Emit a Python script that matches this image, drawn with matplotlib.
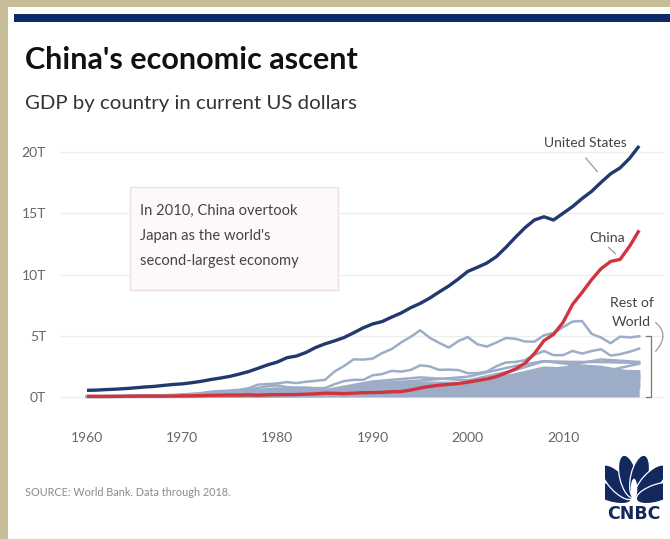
import numpy as np
import matplotlib
matplotlib.use("Agg")
import matplotlib.pyplot as plt
from matplotlib.patches import Rectangle, Ellipse, PathPatch
from matplotlib.path import Path

plt.rcParams['font.family'] = ['Lato', 'DejaVu Sans']

# GDP, trillions of current US dollars (World Bank)
years = list(range(1960, 2019))
us_gdp = [0.543, 0.563, 0.605, 0.638, 0.686, 0.744, 0.815, 0.862, 0.943, 1.019,
          1.073, 1.165, 1.280, 1.425, 1.545, 1.684, 1.873, 2.082, 2.352, 2.627,
          2.857, 3.207, 3.343, 3.634, 4.037, 4.339, 4.580, 4.855, 5.236, 5.642,
          5.963, 6.158, 6.520, 6.859, 7.287, 7.640, 8.073, 8.578, 9.063, 9.631,
          10.252, 10.582, 10.936, 11.458, 12.214, 13.037, 13.815, 14.452, 14.713, 14.449,
          14.992, 15.543, 16.197, 16.785, 17.522, 18.219, 18.707, 19.485, 20.494]
china_gdp = [0.060, 0.050, 0.047, 0.051, 0.060, 0.070, 0.077, 0.073, 0.071, 0.080,
             0.093, 0.100, 0.114, 0.139, 0.144, 0.163, 0.154, 0.175, 0.150, 0.178,
             0.191, 0.196, 0.205, 0.230, 0.260, 0.309, 0.301, 0.273, 0.313, 0.348,
             0.361, 0.383, 0.427, 0.445, 0.564, 0.734, 0.864, 0.962, 1.029, 1.094,
             1.211, 1.339, 1.471, 1.660, 1.955, 2.286, 2.752, 3.552, 4.598, 5.110,
             6.087, 7.552, 8.532, 9.570, 10.476, 11.062, 11.234, 12.310, 13.608]
japan_gdp = [0.044, 0.054, 0.061, 0.070, 0.082, 0.091, 0.106, 0.124, 0.147, 0.173,
             0.213, 0.240, 0.318, 0.432, 0.480, 0.522, 0.586, 0.722, 1.013, 1.055,
             1.105, 1.218, 1.135, 1.243, 1.319, 1.399, 2.079, 2.532, 3.072, 3.054,
             3.133, 3.584, 3.909, 4.455, 4.908, 5.449, 4.833, 4.414, 4.032, 4.562,
             4.888, 4.304, 4.115, 4.446, 4.815, 4.755, 4.530, 4.515, 5.038, 5.231,
             5.700, 6.158, 6.203, 5.156, 4.850, 4.390, 4.927, 4.860, 4.955]
germany_years = list(range(1970, 2019))
germany_gdp = [0.216, 0.250, 0.300, 0.399, 0.446, 0.489, 0.519, 0.600, 0.740, 0.882,
               0.950, 0.801, 0.776, 0.771, 0.725, 0.732, 1.046, 1.296, 1.401, 1.398,
               1.772, 1.868, 2.132, 2.071, 2.206, 2.586, 2.497, 2.212, 2.238, 2.195,
               1.944, 1.945, 2.079, 2.506, 2.819, 2.861, 3.002, 3.440, 3.752, 3.418,
               3.417, 3.758, 3.544, 3.753, 3.898, 3.382, 3.495, 3.693, 3.950]

row_years = [1960, 1965, 1970, 1975, 1980, 1985, 1990, 1995, 2000, 2005, 2008, 2011, 2014, 2018]
nan = np.nan
uk_gdp = [0.073, 0.100, 0.131, 0.241, 0.564, 0.489, 1.093, 1.344, 1.658, 2.538, 2.929, 2.663, 3.064, 2.861]
france_gdp = [0.062, 0.102, 0.148, 0.362, 0.702, 0.555, 1.269, 1.601, 1.362, 2.197, 2.918, 2.865, 2.852, 2.778]
india_gdp = [0.037, 0.059, 0.063, 0.099, 0.186, 0.233, 0.321, 0.360, 0.468, 0.820, 1.199, 1.823, 2.039, 2.713]
italy_gdp = [0.040, 0.067, 0.113, 0.228, 0.477, 0.446, 1.181, 1.174, 1.143, 1.857, 2.392, 2.292, 2.152, 2.092]
brazil_gdp = [0.015, 0.022, 0.042, 0.124, 0.235, 0.223, 0.462, 0.769, 0.655, 0.892, 1.696, 2.616, 2.456, 1.917]
canada_gdp = [0.041, 0.057, 0.088, 0.174, 0.274, 0.365, 0.594, 0.604, 0.744, 1.169, 1.553, 1.793, 1.806, 1.717]
russia_gdp = [nan, nan, nan, nan, nan, nan, 0.517, 0.396, 0.260, 0.764, 1.661, 2.046, 2.064, 1.657]
korea_gdp = [0.004, 0.003, 0.009, 0.022, 0.065, 0.101, 0.283, 0.566, 0.576, 0.934, 1.047, 1.253, 1.484, 1.725]
australia_gdp = [0.019, 0.027, 0.041, 0.098, 0.150, 0.175, 0.311, 0.368, 0.415, 0.693, 1.055, 1.398, 1.468, 1.433]
spain_gdp = [0.012, 0.024, 0.041, 0.111, 0.232, 0.181, 0.535, 0.612, 0.598, 1.157, 1.636, 1.479, 1.371, 1.420]
mexico_gdp = [0.013, 0.021, 0.035, 0.088, 0.206, 0.185, 0.262, 0.344, 0.708, 0.877, 1.110, 1.180, 1.315, 1.221]
indonesia_gdp = [nan, nan, 0.009, 0.031, 0.072, 0.087, 0.106, 0.202, 0.165, 0.286, 0.510, 0.893, 0.891, 1.042]
netherlands_gdp = [0.012, 0.020, 0.038, 0.097, 0.194, 0.141, 0.318, 0.452, 0.416, 0.685, 0.936, 0.905, 0.892, 0.914]
switzerland_gdp = [0.009, 0.014, 0.022, 0.056, 0.118, 0.107, 0.258, 0.342, 0.279, 0.408, 0.555, 0.724, 0.726, 0.705]

row_lines = [uk_gdp, france_gdp, india_gdp, italy_gdp, brazil_gdp, canada_gdp, russia_gdp,
             korea_gdp, australia_gdp, spain_gdp, mexico_gdp, indonesia_gdp,
             netherlands_gdp, switzerland_gdp]
row_band = [italy_gdp, brazil_gdp, canada_gdp, russia_gdp, korea_gdp, australia_gdp,
            spain_gdp, mexico_gdp]

yticks = [0, 5, 10, 15, 20]
ytick_labels = ['0T', '5T', '10T', '15T', '20T']
xticks = [1960, 1970, 1980, 1990, 2000, 2010]

NAVY = '#22396f'
RED = '#d1343c'
ROW = '#9dadc8'

W, H = 670, 539
fig = plt.figure(figsize=(W / 100, H / 100), dpi=100, facecolor='#c7bd98')
fig.patches.append(Rectangle((8 / W, 0), 1, 1 - 7 / H, transform=fig.transFigure,
                             facecolor='white', edgecolor='none', zorder=-10))
fig.patches.append(Rectangle((14 / W, 1 - 22 / H), 1, 8 / H, transform=fig.transFigure,
                             facecolor='#0c2a6a', edgecolor='none', zorder=-5))

fig.text(25 / W, 1 - 60 / H, "China's economic ascent", fontsize=22, fontweight='bold',
         color='#111111', va='center', ha='left')
fig.text(25 / W, 1 - 103 / H, "GDP by country in current US dollars", fontsize=14.7,
         color='#333333', va='center', ha='left')
fig.text(25 / W, 1 - 492 / H, "SOURCE: World Bank. Data through 2018.", fontsize=7.8,
         color='#8a8a8a', va='center', ha='left')

ax = fig.add_axes([60 / W, 1 - 410 / H, 605 / W, 270 / H])
ax.set_facecolor('none')
ax.set_xlim(1960 - 27 / 9.52, 1960 + 578 / 9.52)
ax.set_ylim(-13 / 12.25, 20 + 12 / 12.25)
for s in ax.spines.values():
    s.set_visible(False)
ax.set_yticks(yticks)
ax.set_yticklabels(ytick_labels)
ax.set_xticks(xticks)
ax.tick_params(length=0, labelsize=10, labelcolor='#666666')
ax.tick_params(axis='y', pad=10)
ax.tick_params(axis='x', pad=16)
ax.grid(axis='y', color='#eeeeee', linewidth=1)
ax.set_axisbelow(True)

# rest of world
band_top = np.nanmax(np.array(row_band), axis=0)
ax.fill_between(row_years, 0, band_top, color=ROW, linewidth=0, zorder=2)
for s in row_lines:
    ax.plot(row_years, s, color=ROW, linewidth=1.8, zorder=2)
ax.plot(germany_years, germany_gdp, color=ROW, linewidth=1.8, zorder=2)
ax.plot(years, japan_gdp, color=ROW, linewidth=1.8, zorder=2)

ax.plot(years, china_gdp, color=RED, linewidth=2.4, zorder=4, solid_capstyle='butt')
ax.plot(years, us_gdp, color=NAVY, linewidth=2.4, zorder=5, solid_capstyle='butt')

# labels
ax.text(2012.4, 20.7, "United States", fontsize=10, color='#444444', ha='center', va='center')
ax.plot([2012.4, 2013.6], [19.5, 18.4], color='#999999', linewidth=0.9)
ax.text(2014.6, 13.0, "China", fontsize=10.2, color='#444444', ha='center', va='center')
ax.plot([2014.8, 2015.5], [12.2, 11.7], color='#999999', linewidth=0.9)
ax.text(2017.2, 6.9, "Rest of\nWorld", fontsize=10.2, color='#444444', ha='center',
        va='center', linespacing=1.7)
ax.plot([2018.7, 2019.2, 2019.2, 2018.7], [4.95, 4.95, 0.0, 0.0], color='#777777',
        linewidth=0.9, clip_on=False)
arc = Path([(2019.7, 6.1), (2021.3, 5.1), (2019.7, 3.7)], [Path.MOVETO, Path.CURVE3, Path.CURVE3])
ax.add_patch(PathPatch(arc, facecolor='none', edgecolor='#999999', linewidth=0.9, clip_on=False))

# annotation box
fig.patches.append(Rectangle((130 / W, 1 - 290 / H), 208 / W, 103 / H, transform=fig.transFigure,
                             facecolor='#fdf9fa', edgecolor='#ecdfe4', linewidth=1, zorder=3))
fig.text(140 / W, 1 - 204 / H, "In 2010, China overtook\nJapan as the world's\nsecond-largest economy",
         fontsize=10.6, color='#444444', va='top', ha='left', linespacing=2.0, zorder=4)

# CNBC peacock
lax = fig.add_axes([605 / W, 1 - 503 / H, 58 / W, 50 / H])
lax.set_xlim(-1.15, 1.15)
lax.set_ylim(-0.05, 1.95)
lax.axis('off')
for ang in [162, 132, 103, 77, 48, 18]:
    t = np.deg2rad(ang)
    lax.add_patch(Ellipse((0.98 * np.cos(t), 0.98 * np.sin(t) + 0.05), 1.75, 0.7, angle=ang,
                          facecolor='#13285f', edgecolor='white', linewidth=0.9))
lax.add_patch(Ellipse((0, 0.5), 0.26, 0.85, facecolor='white', edgecolor='none'))
fig.text(634 / W, 1 - 514 / H, "CNBC", fontsize=12.5, fontweight='bold', color='#13285f',
         family='DejaVu Sans', ha='center', va='center')

fig.savefig('out.png', dpi=100, facecolor=fig.get_facecolor())
